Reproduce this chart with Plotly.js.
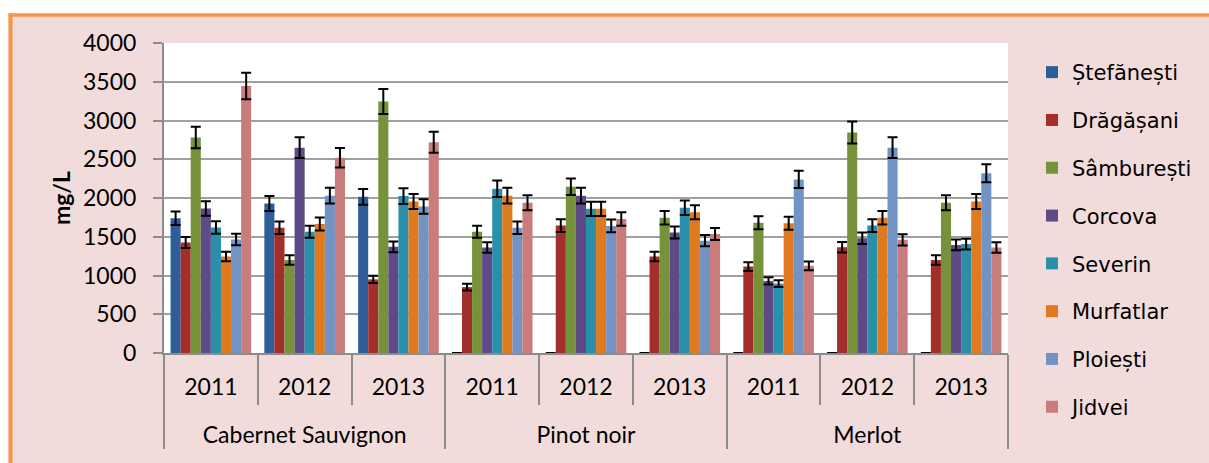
<!DOCTYPE html>
<html>
<head>
<meta charset="utf-8">
<script src="https://cdn.plot.ly/plotly-3.0.1.min.js"></script>
<style>html,body{margin:0;padding:0;background:#fff;}#chart{width:1209px;height:463px;}</style>
</head>
<body>
<div id="chart"></div>
<script>
// Categories
var varieties = ['Cabernet Sauvignon', 'Pinot noir', 'Merlot'];
var years = ['2011', '2012', '2013'];

// Series names (legend)
var stations = ['Ștefănești', 'Drăgășani', 'Sâmburești', 'Corcova', 'Severin', 'Murfatlar', 'Ploiești', 'Jidvei'];

// Values, mg/L, order: CS 2011..2013, PN 2011..2013, M 2011..2013
var stefanesti = [1740, 1930, 2015, 0, 0, 0, 0, 0, 0];
var dragasani  = [1425, 1615, 950, 850, 1645, 1245, 1115, 1365, 1200];
var samburesti = [2780, 1200, 3245, 1565, 2145, 1745, 1680, 2845, 1940];
var corcova    = [1865, 2650, 1370, 1360, 2030, 1555, 930, 1480, 1395];
var severin    = [1620, 1565, 2025, 2120, 1860, 1875, 895, 1645, 1405];
var murfatlar  = [1245, 1665, 1955, 2030, 1860, 1815, 1675, 1745, 1955];
var ploiesti   = [1465, 2030, 1890, 1615, 1640, 1450, 2240, 2650, 2320];
var jidvei     = [3445, 2520, 2720, 1940, 1730, 1535, 1125, 1460, 1360];

var series = [stefanesti, dragasani, samburesti, corcova, severin, murfatlar, ploiesti, jidvei];
var colors = ['#2E5E99', '#A42E2B', '#76933C', '#5E4A86', '#2A8FA9', '#E07A1F', '#7393C4', '#C97C7B'];

// multicategory x; a leading line break drops the variety row lower, as in the original
var xTop = [], xSub = [];
varieties.forEach(function (v) { years.forEach(function (y) { xTop.push('<br>' + v); xSub.push(y); }); });

var traces = series.map(function (vals, i) {
  return {
    type: 'bar',
    name: stations[i],
    legendgroup: 'g' + i,
    x: [xTop, xSub],
    y: vals,
    marker: { color: colors[i], line: { width: 0 } },
    error_y: { type: 'percent', value: 5, visible: true, color: '#000', thickness: 2, width: 5 }
  };
});

// pixel helpers for decoration placement
var L = 164, R = 1008, T = 43, B = 353;
function px(x) { return (x - L) / (R - L); }
function py(y) { return (B - y) / (B - T); }

var layout = {
  width: 1209, height: 463,
  margin: { l: L, r: 1209 - R, t: T, b: 463 - B, pad: 0 },
  paper_bgcolor: '#F2DCDB',
  plot_bgcolor: '#FFFFFF',
  barmode: 'group',
  bargap: 0.14,
  bargroupgap: 0,
  font: { family: 'Lato, sans-serif', size: 23, color: '#000' },
  showlegend: true,
  legend: {
    x: px(1032), xanchor: 'left', y: py(52), yanchor: 'top',
    bgcolor: 'rgba(0,0,0,0)',
    font: { family: 'DejaVu Sans, sans-serif', size: 21, color: '#000' },
    traceorder: 'grouped',
    tracegroupgap: 17.5,
    itemwidth: 30,
    maxheight: 450
  },
  xaxis: {
    type: 'multicategory',
    showline: true, linecolor: '#8C8C8C', linewidth: 2,
    ticks: 'outside', ticklen: 50, tickcolor: '#8C8C8C', tickwidth: 2,
    ticklabelstandoff: 12,
    showdividers: true, dividercolor: '#8C8C8C', dividerwidth: 2,
    showgrid: false,
    tickfont: { family: 'Lato, sans-serif', size: 23, color: '#000' }
  },
  yaxis: {
    range: [0, 4000], dtick: 500, tick0: 0,
    showgrid: true, gridcolor: '#A0A0A0', gridwidth: 2,
    showline: true, linecolor: '#8C8C8C', linewidth: 2,
    ticks: 'outside', ticklen: 9, tickcolor: '#8C8C8C', tickwidth: 2,
    ticklabelstandoff: 12,
    zeroline: false,
    tickfont: { family: 'Lato, sans-serif', size: 23, color: '#000' },
    title: { text: '<b>mg/L</b>', font: { family: 'Lato, sans-serif', size: 23, color: '#000' }, standoff: 6 }
  },
  shapes: [
    { type: 'rect', xref: 'paper', yref: 'paper', x0: px(-5), x1: px(1215), y0: py(13.5), y1: py(-5), fillcolor: '#FFFFFF', line: { width: 0 }, layer: 'above' },
    { type: 'rect', xref: 'paper', yref: 'paper', x0: px(-5), x1: px(8.5), y0: py(470), y1: py(-5), fillcolor: '#FFFFFF', line: { width: 0 }, layer: 'above' },
    { type: 'line', xref: 'paper', yref: 'paper', x0: px(8.5), x1: px(1215), y0: py(15), y1: py(15), line: { color: '#F79646', width: 3.5 }, layer: 'above' },
    { type: 'line', xref: 'paper', yref: 'paper', x0: px(10.5), x1: px(10.5), y0: py(13.5), y1: py(470), line: { color: '#F79646', width: 4 }, layer: 'above' }
  ]
};

Plotly.newPlot('chart', traces, layout, { displayModeBar: false, staticPlot: true });
</script>
</body>
</html>
